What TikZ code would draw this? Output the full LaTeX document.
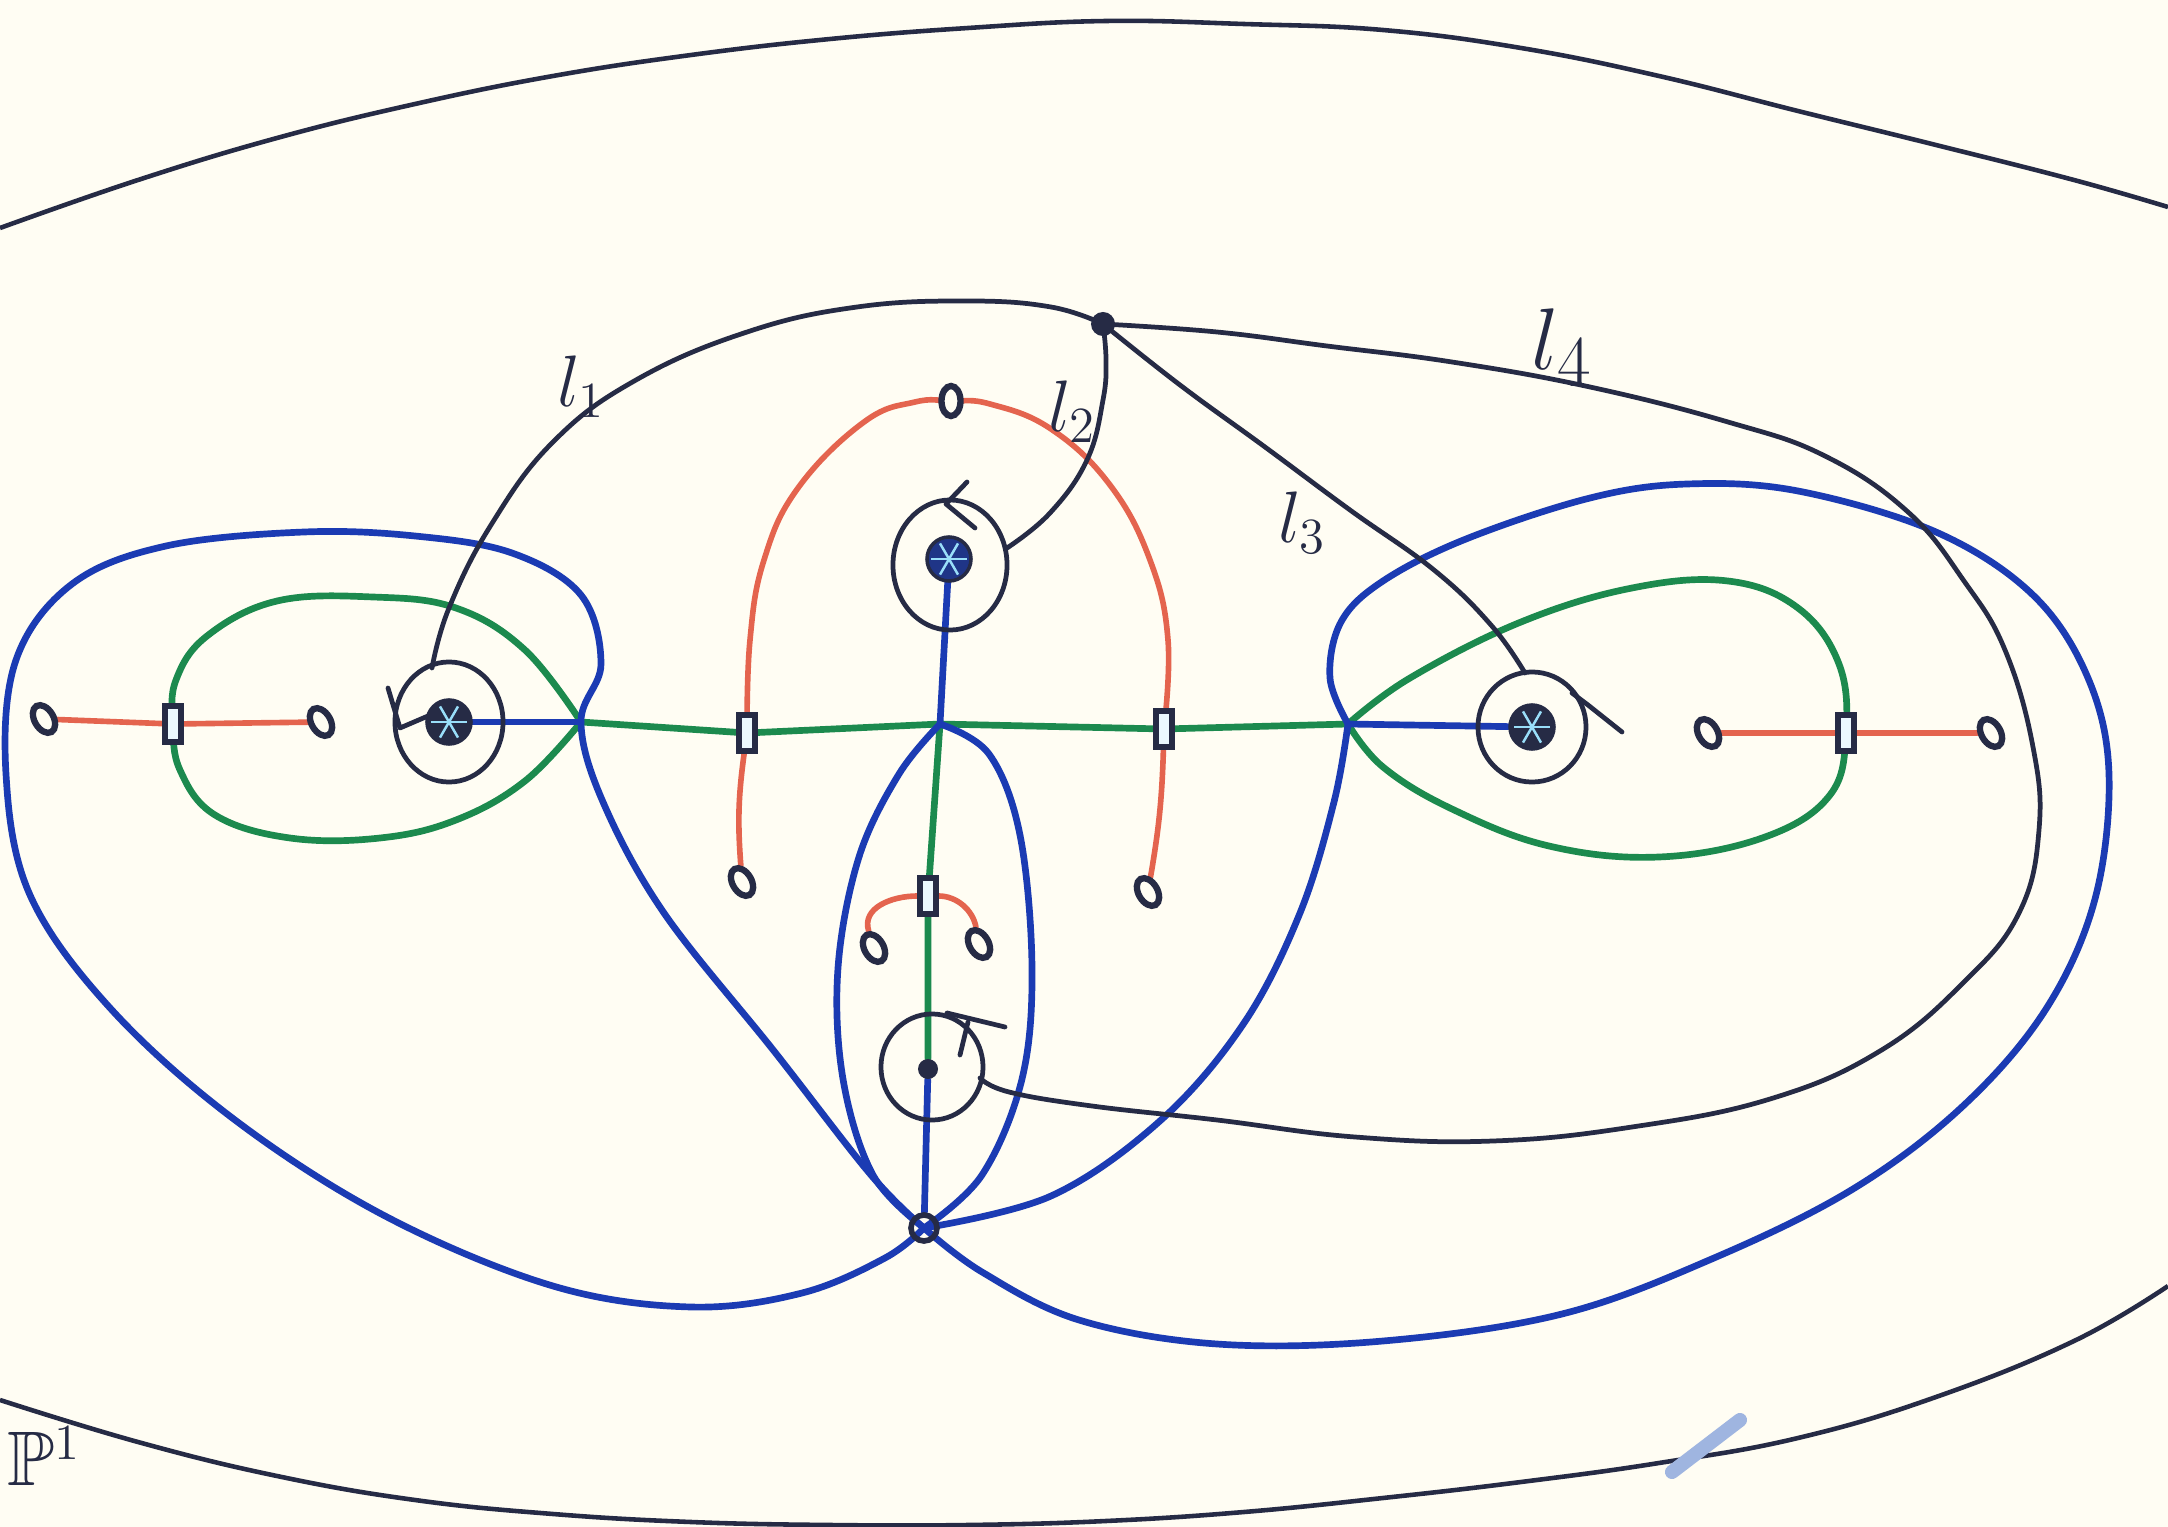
\documentclass[tikz,border=0pt]{standalone}
\usepackage{amssymb}
\usetikzlibrary{calc,shapes.geometric}

\definecolor{cream}{HTML}{FFFDF3}
\definecolor{ink}{HTML}{262B45}
\definecolor{bluepen}{HTML}{1B3BB3}
\definecolor{greenpen}{HTML}{1C8A4E}
\definecolor{redpen}{HTML}{E4644E}
\definecolor{smudge}{HTML}{9FB5E0}

\pgfdeclarelayer{paper}
\pgfdeclarelayer{curves}
\pgfsetlayers{paper,curves,main}

\tikzset{
  pen/.style={line width=1.9pt, line cap=round, line join=round},
  redline/.style={pen, draw=redpen, line width=1.6pt},
  greenline/.style={pen, draw=greenpen},
  blueline/.style={pen, draw=bluepen},
  loopline/.style={pen, draw=ink, line width=1.35pt},
  rimline/.style={draw=ink, line width=1.3pt},
  bpoint/.style={circle, fill=ink, inner sep=0pt, minimum size=0.24cm},
  dotpoint/.style={circle, fill=ink, inner sep=0pt, minimum size=0.2cm},
  crosspoint/.style={circle, draw=ink, line width=1.6pt, inner sep=0pt, minimum size=0.26cm},
  puncture/.style={circle, draw=ink, fill=ink, line width=1pt, inner sep=0pt, minimum size=0.44cm,
    path picture={\foreach \a in {0,60,120}
      \draw[white!60!cyan, line width=0.7pt] ([shift={(\a:1.8mm)}]path picture bounding box.center)
        -- ([shift={(\a+180:1.8mm)}]path picture bounding box.center);}},
  omark/.style={ellipse, draw=ink, fill=cream, line width=1.8pt, inner sep=0pt,
    minimum width=0.19cm, minimum height=0.3cm, rotate=30},
  cutmark/.style={rectangle, draw=ink, fill=cyan!8, line width=1.6pt, inner sep=0pt,
    minimum width=0.16cm, minimum height=0.36cm},
  lab/.style={text=ink, font=\fontsize{22}{26}\selectfont},
}

\begin{document}
\begin{tikzpicture}[x=0.01cm,y=-0.01cm]
\useasboundingbox (0,0) rectangle (2168,1527);
\begin{pgfonlayer}{paper}
\fill[cream] (0,0) rectangle (2168,1527);
\end{pgfonlayer}

\node[bpoint] (bp) at (1103,324) {};
\node[puncture] (sL) at (449,722) {};
\node[puncture, fill=bluepen!60!ink] (sC) at (949,559) {};
\node[puncture] (sR) at (1532,727) {};
\node[dotpoint] (dB) at (928,1069) {};
\node[crosspoint] (X) at (924,1228) {};
\coordinate (jL) at (581,722);
\coordinate (jC) at (940,724);
\coordinate (jR) at (1348,724);
\coordinate (eL) at (432,668);
\coordinate (eC) at (1007,548);
\coordinate (eR) at (1525,673);
\coordinate (eB) at (980,1078);

\node[cutmark] (c1) at (173,724) {};
\node[cutmark] (c2) at (747,733) {};
\node[cutmark] (c3) at (1164,729) {};
\node[cutmark] (c4) at (1846,733) {};
\node[cutmark] (c5) at (928,896) {};

\node[omark] (m1) at (44,719) {};
\node[omark] (m2) at (321,722) {};
\node[omark, rotate=-30] (m3) at (951,401) {};
\node[omark] (m4) at (742,882) {};
\node[omark] (m5) at (1148,892) {};
\node[omark] (m6) at (874,948) {};
\node[omark] (m7) at (979,944) {};
\node[omark] (m8) at (1708,733) {};
\node[omark] (m9) at (1991,733) {};

\node[lab] (t1) at (581,387) {$l_1$};
\node[lab] (t2) at (1072,412) {$l_2$};
\node[lab] (t3) at (1302,523) {$l_3$};
\node[lab, font=\fontsize{30}{34}\selectfont] (t4) at (1562,348) {$l_4$};
\node[lab] (tP) at (44,1456) {$\mathbb{P}^1$};

\begin{pgfonlayer}{curves}
\draw[rimline] plot[smooth, tension=0.7] coordinates {(0,228) (138,180) (277,138) (415,104) (553,76) (691,55) (830,39) (968,28) (1106,21) (1244,24) (1383,30) (1521,48) (1659,76) (1798,111) (1936,145) (2074,180) (2168,207)};
\draw[rimline] plot[smooth, tension=0.7] coordinates {(0,1400) (138,1442) (277,1476) (415,1500) (553,1514) (691,1522) (830,1525) (968,1525) (1106,1521) (1244,1512) (1383,1498) (1521,1482) (1659,1463) (1798,1438) (1936,1397) (2074,1341) (2168,1286)};
\draw[smudge, line width=4pt, line cap=round] (1672,1472) -- (1740,1420);

\draw[redline] (m1) -- (c1) -- (m2);
\draw[redline] (m8) -- (c4) -- (m9);
\draw[redline] plot[smooth, tension=0.7] coordinates {(c2) (750,640) (764,560) (798,488) (864,422) (915,402) (m3) (990,404) (1051,429) (1110,485) (1150,560) (1168,640) (c3)};
\draw[redline] (c2) to[bend right=6] (m4);
\draw[redline] (c3) to[bend left=4] (m5);
\draw[redline] (m6) to[out=95,in=180] (c5) to[out=0,in=85] (m7);

\draw[greenline] (jL) -- (c2) -- (jC) -- (c3) -- (jR);
\draw[greenline] (jC) -- (c5) -- (dB);
\draw[greenline] plot[smooth, tension=0.65] coordinates {(jL) (525,650) (456,608) (373,597) (277,601) (207,636) (176,680) (c1) (180,770) (215,815) (290,838) (380,838) (456,820) (525,781) (jL)};
\draw[greenline] plot[smooth, tension=0.65] coordinates {(jR) (1410,678) (1521,622) (1632,588) (1728,581) (1798,608) (1839,664) (c4) (1830,795) (1765,837) (1659,857) (1549,846) (1452,809) (1383,767) (jR)};

\draw[blueline] (jL) -- (sL);
\draw[blueline] (jR) -- (sR);
\draw[blueline] (jC) -- (sC);
\draw[blueline] (dB) -- (X);
\draw[blueline] plot[smooth, tension=0.6] coordinates {(X) (885,1258) (802,1293) (691,1307) (553,1286) (387,1217) (235,1120) (111,1009) (30,895) (6,774) (16,660) (72,584) (166,546) (304,532) (415,536) (512,553) (581,595) (601,664) (jL) (603,802) (664,913) (774,1051) (871,1175) (X)};
\draw[blueline] plot[smooth, tension=0.6] coordinates {(jR) (1330,678) (1341,622) (1383,581) (1466,539) (1590,498) (1687,484) (1798,491) (1936,532) (2033,595) (2088,678) (2109,774) (2095,899) (2046,1009) (1963,1106) (1853,1189) (1714,1258) (1562,1314) (1383,1341) (1217,1344) (1079,1320) (982,1272) (X)};
\draw[blueline] plot[smooth, tension=0.6] coordinates {(jR) (1334,802) (1300,913) (1244,1023) (1161,1120) (1051,1196) (X)};
\draw[blueline] plot[smooth, tension=0.6] coordinates {(jC) (899,774) (859,857) (838,968) (843,1079) (873,1175) (X)};
\draw[blueline] plot[smooth, tension=0.6] coordinates {(jC) (989,754) (1020,835) (1032,968) (1022,1079) (982,1175) (X)};

\draw[loopline] (sL) ellipse [x radius=0.54cm, y radius=0.6cm];
\draw[loopline] (950,565) ellipse [x radius=0.57cm, y radius=0.65cm];
\draw[loopline] (sR) ellipse [x radius=0.54cm, y radius=0.55cm];
\draw[loopline] (932,1067) ellipse [x radius=0.51cm, y radius=0.53cm];
\draw[loopline] (388,688) -- (400,728) -- (428,716);
\draw[loopline] (967,482) -- (946,504) -- (975,528);
\draw[loopline] (1572,693) -- (1588,705) -- (1622,732);
\draw[loopline] (947,1013) -- (1005,1027);
\draw[loopline] (968,1022) -- (960,1055);

\draw[loopline] plot[smooth, tension=0.7] coordinates {(bp) (1051,307) (968,301) (857,307) (747,332) (636,380) (553,442) (491,525) (449,608) (eL)};
\draw[loopline] plot[smooth, tension=0.7] coordinates {(bp) (1106,360) (1103,400) (1087,460) (1050,513) (eC)};
\draw[loopline] plot[smooth, tension=0.7] coordinates {(bp) (1180,385) (1265,447) (1350,510) (1434,570) (1491,625) (eR)};
\draw[loopline] plot[smooth, tension=0.7] coordinates {(bp) (1217,332) (1327,346) (1452,362) (1590,387) (1728,422) (1825,456) (1908,512) (1964,581) (2005,650) (2033,747) (2039,830) (2019,913) (1964,982) (1880,1051) (1770,1099) (1632,1127) (1493,1141) (1355,1137) (1217,1120) (1092,1106) (1009,1092) (eB)};
\end{pgfonlayer}
\end{tikzpicture}
\end{document}
